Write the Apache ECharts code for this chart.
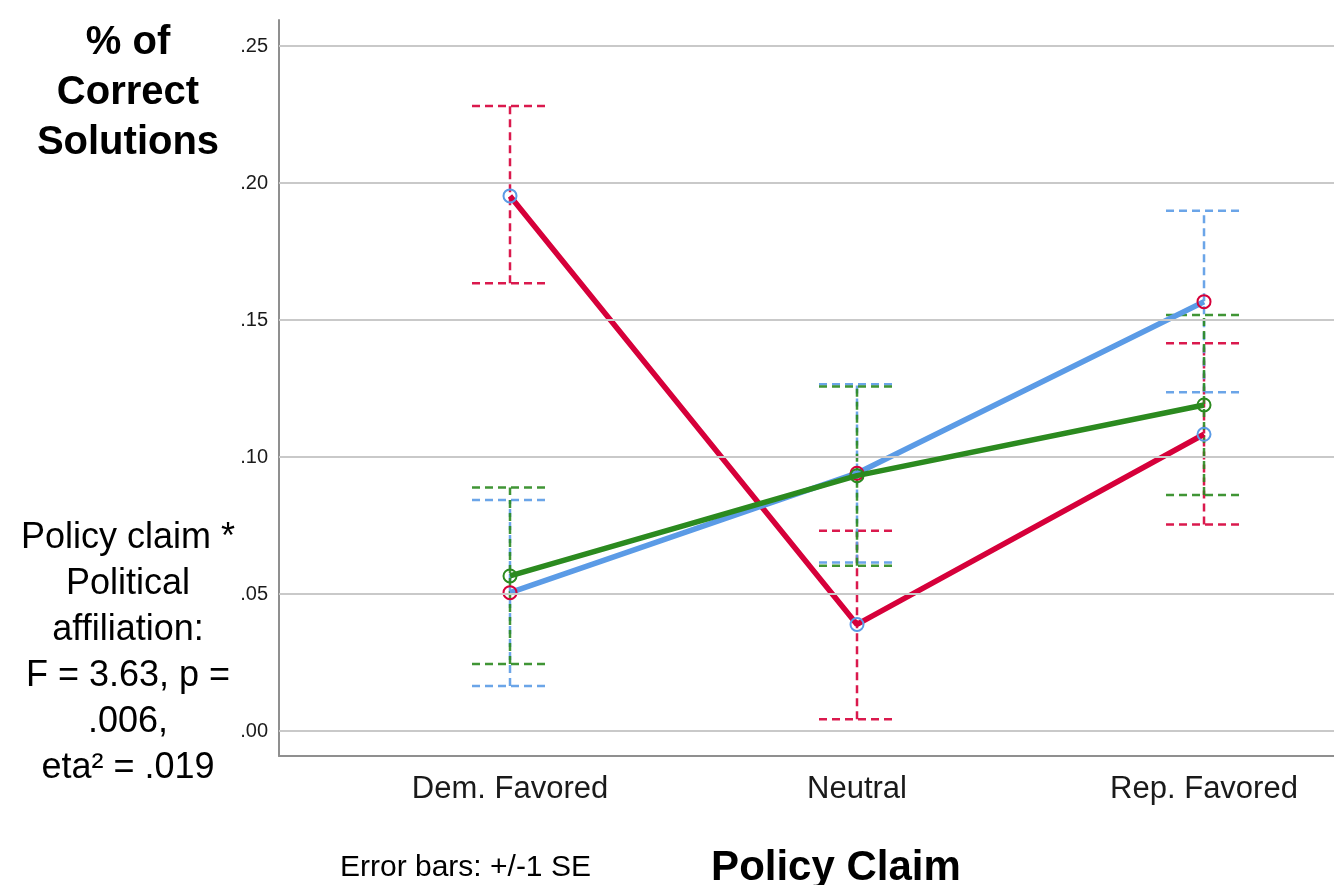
<!DOCTYPE html>
<html>
<head>
<meta charset="utf-8">
<script src="https://cdn.jsdelivr.net/npm/echarts@6/dist/echarts.min.js"></script>
<style>
  html, body { margin: 0; padding: 0; background: #fff; }
  #chart { width: 1334px; height: 885px; }
</style>
</head>
<body>
<div id="chart"></div>
<script>
// ---- data ----
const categories = ['Dem. Favored', 'Neutral', 'Rep. Favored'];
const yTicks = [0, 0.05, 0.10, 0.15, 0.20, 0.25];

const redMean = [0.1953, 0.0389, 0.1083];
const redLow  = [0.1634, 0.0043, 0.0754];
const redHigh = [0.2281, 0.0731, 0.1415];

const blueMean = [0.0505, 0.0941, 0.1567];
const blueLow  = [0.0164, 0.0615, 0.1236];
const blueHigh = [0.0843, 0.1266, 0.1899];

const greenMean = [0.0566, 0.0932, 0.1190];
const greenLow  = [0.0245, 0.0603, 0.0861];
const greenHigh = [0.0889, 0.1257, 0.1518];

// ---- styles ----
const RED = '#d6003a';
const BLUE = '#5b9be6';
const GREEN = '#2b8a1f';
const FONT = '"Liberation Sans", Arial, sans-serif';

const chart = echarts.init(document.getElementById('chart'));

function lineData(mean) { return mean.map((v, i) => [i, v]); }
function errData(low, high) { return low.map((v, i) => [i, v, high[i]]); }

function errSeries(low, high, color) {
  return {
    type: 'custom',
    z: 2,
    silent: true,
    data: errData(low, high),
    encode: { x: 0, y: [1, 2] },
    renderItem: function (params, api) {
      const x = api.value(0);
      const pLo = api.coord([x, api.value(1)]);
      const pHi = api.coord([x, api.value(2)]);
      const hw = 38;
      const style = { stroke: color, lineWidth: 2.5, lineDash: [8, 5], fill: null, opacity: 0.9 };
      return {
        type: 'group',
        children: [
          { type: 'line', shape: { x1: pLo[0], y1: pLo[1], x2: pHi[0], y2: pHi[1] }, style: style },
          { type: 'line', shape: { x1: pHi[0] - hw, y1: pHi[1], x2: pHi[0] + hw, y2: pHi[1] }, style: style },
          { type: 'line', shape: { x1: pLo[0] - hw, y1: pLo[1], x2: pLo[0] + hw, y2: pLo[1] }, style: style }
        ]
      };
    }
  };
}

function lineSeries(mean, color, markerColor, z) {
  return {
    type: 'line',
    z: z,
    data: lineData(mean),
    symbol: 'circle',
    symbolSize: 13,
    showSymbol: true,
    lineStyle: { color: color, width: 5.5 },
    itemStyle: { color: 'rgba(0,0,0,0)', borderColor: markerColor, borderWidth: 2 },
    emphasis: { disabled: true },
    silent: true
  };
}

const option = {
  animation: false,
  backgroundColor: '#fff',
  grid: { left: 279, right: 0, top: 20, bottom: 129, containLabel: false },
  xAxis: {
    type: 'value',
    min: -0.6657,
    max: 2.3746,
    splitLine: { show: false },
    axisTick: { show: false },
    axisLine: { show: true, onZero: false, lineStyle: { color: '#8f8f8f', width: 2 } },
    axisLabel: {
      customValues: [0, 1, 2],
      formatter: v => categories[Math.round(v)],
      margin: 18,
      fontSize: 31,
      color: '#1a1a1a',
      fontFamily: FONT
    }
  },
  yAxis: {
    type: 'value',
    min: -0.00912,
    max: 0.2595,
    splitLine: { show: false },
    axisTick: { show: false },
    axisLine: { show: true, onZero: false, lineStyle: { color: '#8f8f8f', width: 2 } },
    axisLabel: {
      customValues: yTicks,
      formatter: v => v.toFixed(2).replace(/^0/, ''),
      margin: 11,
      fontSize: 20,
      padding: [8, 0, 0, 0],
      color: '#1a1a1a',
      fontFamily: FONT
    }
  },
  series: [
    {
      type: 'line',
      z: 1,
      data: [],
      silent: true,
      markLine: {
        silent: true,
        symbol: ['none', 'none'],
        label: { show: false },
        lineStyle: { type: 'solid', color: '#c9c9c9', width: 2 },
        data: yTicks.map(v => ({ yAxis: v }))
      }
    },
    errSeries(redLow, redHigh, RED),
    errSeries(blueLow, blueHigh, BLUE),
    errSeries(greenLow, greenHigh, GREEN),
    lineSeries(redMean, RED, BLUE, 3),
    lineSeries(blueMean, BLUE, RED, 4),
    lineSeries(greenMean, GREEN, GREEN, 5)
  ],
  graphic: [
    {
      type: 'text',
      style: {
        text: '% of\nCorrect\nSolutions',
        x: 128, y: 18,
        font: 'bold 40px ' + FONT,
        fill: '#000',
        textAlign: 'center',
        textVerticalAlign: 'top',
        lineHeight: 50
      }
    },
    {
      type: 'text',
      style: {
        text: 'Policy claim *\nPolitical\naffiliation:\nF = 3.63, p =\n.006,\neta² = .019',
        x: 128, y: 515,
        font: '36px ' + FONT,
        fill: '#000',
        textAlign: 'center',
        textVerticalAlign: 'top',
        lineHeight: 46
      }
    },
    {
      type: 'text',
      style: {
        text: 'Error bars: +/-1 SE',
        x: 340, y: 868,
        font: '30px ' + FONT,
        fill: '#000',
        textAlign: 'left',
        textVerticalAlign: 'middle'
      }
    },
    {
      type: 'text',
      style: {
        text: 'Policy Claim',
        x: 836, y: 868,
        font: 'bold 42px ' + FONT,
        fill: '#000',
        textAlign: 'center',
        textVerticalAlign: 'middle'
      }
    }
  ]
};

chart.setOption(option);
</script>
</body>
</html>
